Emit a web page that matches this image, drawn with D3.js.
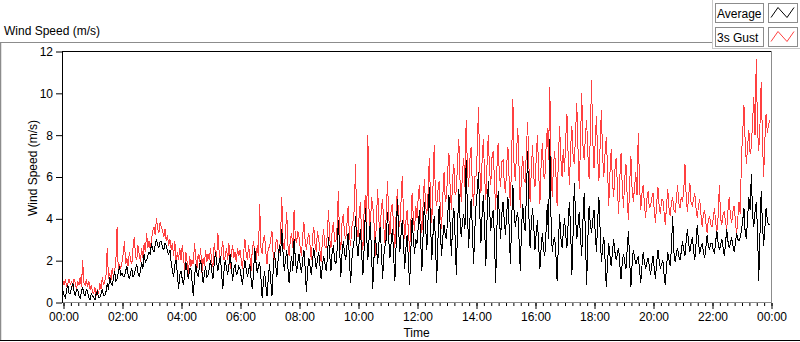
<!DOCTYPE html>
<html>
<head>
<meta charset="utf-8">
<script src="https://cdn.jsdelivr.net/npm/d3@7"></script>
<style>
  body { margin: 0; background: #fff; }
  svg { display: block; font-family: "Liberation Sans", Arial, sans-serif; font-size: 12px; }
</style>
</head>
<body>
<svg id="chart" width="800" height="342"></svg>
<script>
// one sample every 2.5 minutes, one row per hour (24 values)
const sampleMinutes = 2.5;

const average = [
  0.5, 0.3, 0.2, 0.6, 0.8, 0.4, 0.4, 0.7, 0.9, 0.5, 0.3, 0.6, 0.6, 0.3, 0.2, 0.5, 0.7, 0.4, 0.3, 0.6, 0.5, 0.2, 0.1, 0.4,
  0.3, 0.2, 0.1, 0.4, 0.5, 0.2, 0.2, 0.4, 0.6, 0.3, 0.3, 0.5, 0.9, 0.6, 1.2, 0.9, 0.8, 1.1, 1.5, 1.0, 1.1, 1.4, 1.7, 1.3,
  1.4, 1.2, 1.2, 1.5, 1.7, 1.3, 1.1, 1.4, 1.6, 1.2, 1.3, 1.6, 1.8, 1.4, 1.2, 1.5, 1.9, 1.6, 2.3, 1.9, 2.0, 2.2, 2.4, 2.3,
  2.8, 2.5, 2.4, 2.7, 3.0, 2.7, 2.6, 2.9, 2.9, 2.6, 2.5, 2.8, 2.7, 2.4, 2.3, 2.5, 1.9, 1.5, 1.2, 1.8, 2.0, 1.4, 0.6, 1.3,
  1.5, 1.1, 0.8, 1.4, 1.9, 1.5, 1.1, 1.6, 1.6, 1.0, 0.3, 1.2, 1.8, 1.4, 1.2, 1.7, 2.0, 1.5, 0.9, 1.3, 1.7, 1.2, 1.3, 1.6,
  2.0, 1.5, 1.1, 1.8, 2.4, 1.9, 1.5, 1.9, 2.2, 1.4, 0.6, 1.5, 2.0, 1.6, 1.3, 1.8, 2.3, 1.7, 1.0, 1.6, 1.8, 1.3, 1.4, 1.7,
  1.6, 1.2, 0.8, 1.5, 2.0, 1.6, 1.2, 1.5, 1.8, 1.1, 0.6, 1.4, 2.6, 1.9, 1.4, 1.7, 1.9, 1.2, 0.2, 0.9, 1.5, 0.8, 0.3, 1.1,
  1.8, 1.0, 0.3, 1.5, 2.4, 1.8, 1.2, 2.0, 2.7, 2.2, 3.5, 2.4, 1.5, 2.0, 2.5, 1.6, 0.9, 1.7, 2.2, 1.5, 3.0, 2.1, 1.4, 1.9,
  2.3, 1.8, 1.4, 2.0, 2.5, 1.6, 0.5, 1.5, 2.1, 1.7, 1.3, 1.9, 2.6, 2.1, 1.6, 2.0, 2.4, 1.8, 1.1, 1.7, 2.2, 1.9, 1.5, 2.0,
  3.1, 2.2, 1.5, 2.4, 2.7, 2.0, 1.8, 2.5, 3.9, 2.6, 1.2, 2.3, 2.9, 2.4, 2.0, 2.7, 3.3, 2.1, 0.9, 2.0, 2.6, 3.0, 4.1, 2.8,
  2.2, 2.9, 3.5, 2.3, 1.3, 2.6, 4.5, 3.2, 2.0, 3.0, 3.8, 2.4, 0.6, 2.1, 3.1, 2.7, 1.8, 2.8, 3.6, 2.5, 1.1, 2.2, 2.7, 3.0,
  4.3, 3.0, 2.1, 2.9, 3.5, 2.2, 1.0, 2.7, 4.9, 3.5, 2.4, 3.2, 3.9, 2.8, 1.6, 2.6, 3.2, 2.0, 0.8, 2.5, 4.0, 3.1, 2.3, 3.0,
  2.8, 3.6, 4.4, 2.9, 1.5, 3.3, 4.8, 3.6, 2.5, 4.0, 5.5, 3.8, 2.0, 3.2, 4.1, 3.0, 0.9, 2.9, 4.6, 3.4, 2.2, 3.1, 3.7, 3.2,
  3.0, 4.2, 5.1, 3.6, 2.2, 3.8, 4.5, 3.1, 1.3, 3.6, 5.4, 4.0, 3.1, 3.9, 4.2, 3.5, 6.8, 4.4, 2.6, 3.9, 4.9, 3.6, 1.8, 3.4,
  4.6, 5.3, 6.2, 4.4, 2.8, 4.2, 5.1, 3.6, 1.7, 4.0, 5.8, 4.5, 3.4, 4.0, 4.4, 3.1, 0.9, 3.5, 5.3, 4.1, 3.0, 4.2, 4.8, 3.9,
  3.2, 4.3, 5.0, 3.5, 1.8, 3.9, 5.6, 4.3, 3.6, 4.1, 4.3, 3.0, 1.5, 3.4, 4.7, 3.8, 3.4, 5.1, 7.2, 4.2, 2.6, 3.7, 4.5, 3.6,
  2.5, 3.3, 3.9, 2.7, 1.6, 2.6, 3.3, 2.5, 2.2, 3.4, 4.7, 3.0, 7.8, 4.1, 2.4, 2.9, 3.1, 2.3, 1.0, 2.7, 4.2, 3.1, 2.6, 3.3,
  4.0, 3.2, 2.6, 3.8, 4.8, 3.4, 1.3, 3.3, 5.7, 4.1, 3.0, 3.7, 4.3, 3.1, 2.2, 3.9, 5.2, 3.3, 0.8, 3.0, 4.6, 3.7, 3.3, 3.9,
  4.4, 3.3, 2.4, 3.9, 5.0, 3.4, 1.9, 2.6, 3.1, 2.0, 0.7, 1.9, 2.8, 2.2, 1.7, 2.4, 3.0, 2.4, 2.0, 2.3, 2.6, 1.8, 1.1, 1.9,
  2.3, 1.9, 1.6, 2.5, 3.4, 2.0, 0.7, 1.8, 2.5, 2.1, 1.8, 2.0, 2.2, 1.6, 0.9, 1.7, 2.4, 1.9, 1.6, 1.9, 2.1, 1.7, 1.3, 1.8,
  2.2, 1.6, 1.1, 1.9, 2.5, 2.0, 1.6, 1.8, 2.0, 1.3, 0.8, 1.7, 2.4, 2.0, 1.7, 2.6, 4.1, 2.4, 1.9, 2.3, 2.6, 2.2, 2.0, 2.4,
  2.9, 2.5, 2.2, 2.9, 3.5, 2.8, 2.4, 2.8, 3.1, 2.5, 2.0, 2.8, 3.7, 2.9, 2.3, 2.6, 2.8, 2.4, 2.1, 2.6, 3.2, 2.7, 2.5, 2.8,
  2.8, 2.5, 2.3, 2.9, 3.4, 2.8, 2.5, 2.7, 3.0, 2.6, 2.2, 2.8, 3.5, 2.9, 2.6, 2.8, 3.1, 2.7, 2.4, 2.8, 3.3, 3.0, 2.9, 3.1,
  3.4, 3.9, 4.5, 3.3, 3.0, 4.1, 5.0, 4.4, 6.1, 4.2, 3.6, 4.3, 4.8, 3.5, 1.0, 3.2, 5.3, 3.8, 2.7, 3.5, 4.5, 3.9, 3.7, 3.7
];

const gust = [
  1.0, 0.8, 1.1, 0.7, 0.9, 1.1, 0.8, 1.0, 0.7, 1.1, 0.9, 0.6, 1.0, 0.8, 1.2, 0.7, 2.0, 0.9, 0.8, 1.1, 0.7, 1.0, 0.6, 0.8,
  0.5, 0.4, 0.7, 0.3, 0.6, 0.4, 0.9, 0.6, 1.2, 0.8, 1.0, 1.3, 2.6, 1.1, 1.4, 1.0, 1.6, 1.2, 1.5, 1.9, 3.6, 1.4, 1.8, 1.6,
  1.9, 2.3, 2.9, 1.8, 2.1, 1.7, 2.4, 2.0, 1.8, 2.6, 3.1, 2.2, 2.0, 2.7, 2.3, 1.9, 2.6, 2.1, 2.8, 2.4, 3.3, 2.6, 2.9, 2.5,
  3.0, 3.4, 3.6, 3.2, 4.0, 3.5, 3.3, 3.8, 3.6, 3.4, 3.1, 3.5, 2.9, 3.2, 2.7, 3.0, 2.5, 2.8, 2.2, 2.9, 1.8, 2.4, 2.0, 2.6,
  2.0, 2.7, 2.2, 1.5, 2.4, 1.9, 1.3, 2.2, 1.7, 2.0, 1.8, 2.8, 2.1, 1.6, 2.3, 1.9, 2.6, 1.4, 2.1, 1.7, 2.5, 1.9, 2.3, 2.0,
  2.6, 1.9, 1.7, 2.8, 2.3, 2.1, 3.3, 2.4, 1.8, 2.5, 2.9, 2.0, 2.2, 2.6, 2.0, 2.8, 1.6, 2.4, 2.7, 2.1, 2.4, 1.9, 2.6, 2.2,
  2.5, 2.0, 1.6, 2.4, 3.0, 2.3, 2.0, 2.7, 2.2, 1.5, 2.5, 2.9, 2.4, 2.0, 2.7, 2.2, 4.7, 2.6, 2.3, 3.0, 3.2, 2.4, 1.8, 2.6,
  2.6, 3.0, 3.4, 2.2, 2.0, 2.8, 3.0, 2.5, 2.4, 3.1, 5.0, 2.8, 2.5, 3.3, 4.3, 2.7, 2.2, 3.0, 3.3, 2.6, 4.4, 3.1, 2.8, 3.4,
  3.1, 2.6, 2.2, 3.2, 3.8, 2.9, 2.5, 3.0, 3.3, 2.7, 2.0, 3.1, 3.6, 2.8, 2.4, 3.4, 3.0, 2.5, 1.9, 2.9, 3.5, 2.7, 2.6, 3.2,
  4.4, 3.0, 2.6, 3.4, 3.8, 2.9, 2.9, 3.6, 5.3, 3.1, 2.5, 3.8, 4.2, 3.3, 3.0, 3.7, 4.6, 3.2, 2.7, 3.6, 3.9, 4.4, 6.6, 3.5,
  3.1, 4.2, 4.8, 3.0, 2.5, 4.4, 5.1, 3.6, 8.0, 4.3, 3.4, 5.0, 4.6, 3.8, 2.2, 4.0, 5.4, 3.9, 3.3, 4.5, 4.9, 3.6, 2.8, 4.2,
  5.8, 4.1, 3.2, 4.5, 4.7, 3.5, 2.6, 4.2, 5.4, 4.0, 3.6, 4.8, 6.0, 4.3, 3.0, 3.9, 4.4, 3.4, 2.4, 3.8, 5.2, 4.1, 3.4, 4.6,
  4.0, 5.0, 5.6, 4.1, 3.3, 4.7, 5.9, 4.6, 4.2, 5.2, 6.9, 4.9, 3.8, 5.5, 7.5, 5.0, 4.6, 5.3, 5.8, 4.4, 3.5, 5.1, 6.2, 4.8,
  5.0, 6.3, 7.1, 5.4, 4.4, 5.9, 6.6, 5.1, 5.3, 6.7, 7.8, 5.8, 4.8, 6.2, 6.9, 5.5, 8.7, 6.4, 5.5, 6.8, 7.4, 5.6, 4.6, 6.0,
  6.0, 7.2, 9.3, 6.5, 5.2, 6.8, 7.8, 6.0, 4.9, 6.6, 8.0, 6.3, 5.6, 6.9, 7.2, 5.8, 4.4, 6.4, 7.6, 6.1, 5.5, 6.7, 6.8, 5.7,
  5.2, 6.6, 7.4, 5.8, 4.6, 6.9, 9.7, 6.4, 5.8, 7.2, 8.3, 6.5, 4.5, 6.1, 7.0, 5.9, 5.7, 7.3, 8.6, 6.6, 4.8, 6.3, 7.5, 6.0,
  5.5, 6.9, 8.0, 6.2, 4.7, 6.6, 7.6, 6.0, 5.9, 7.4, 8.3, 6.8, 10.3, 7.0, 5.0, 6.5, 7.2, 6.1, 4.6, 6.8, 8.4, 6.9, 6.0, 7.3,
  6.2, 7.8, 9.0, 6.9, 5.6, 7.4, 8.4, 7.0, 6.6, 8.1, 9.5, 7.3, 5.4, 7.6, 10.0, 7.5, 6.8, 7.9, 8.7, 7.1, 5.9, 8.0, 10.6, 7.7,
  6.4, 7.7, 8.9, 6.9, 5.8, 7.5, 9.2, 7.0, 6.0, 7.1, 7.9, 6.4, 4.6, 6.2, 7.3, 5.8, 5.0, 6.3, 6.9, 5.6, 4.2, 5.9, 7.1, 5.5,
  4.5, 5.9, 6.6, 5.0, 3.9, 5.6, 7.0, 5.4, 4.8, 5.5, 6.2, 5.1, 8.1, 5.7, 4.4, 5.2, 5.6, 4.7, 4.0, 4.9, 5.3, 4.5, 4.6, 5.0,
  5.2, 4.4, 3.8, 4.7, 5.5, 4.6, 4.2, 4.9, 4.9, 4.3, 3.7, 4.6, 5.4, 4.5, 4.1, 4.8, 5.0, 4.4, 4.3, 4.9, 5.6, 4.7, 4.5, 5.0,
  4.8, 5.3, 6.6, 5.0, 4.3, 5.1, 5.7, 4.7, 4.6, 4.9, 5.2, 4.5, 4.0, 4.6, 4.9, 4.2, 3.6, 4.2, 4.4, 3.8, 3.3, 3.9, 4.1, 3.7,
  3.6, 4.0, 4.5, 3.8, 3.4, 4.1, 5.6, 4.0, 3.7, 4.2, 4.3, 3.8, 3.5, 4.4, 5.0, 4.1, 3.8, 4.3, 4.6, 3.9, 3.2, 4.0, 4.8, 4.2,
  7.0, 8.1, 9.4, 7.6, 6.6, 7.5, 8.2, 7.1, 7.4, 8.6, 9.8, 8.0, 11.6, 8.3, 7.2, 8.4, 10.5, 7.9, 6.0, 7.7, 9.0, 8.1, 8.5, 8.7
];

const xTickHours = [0, 2, 4, 6, 8, 10, 12, 14, 16, 18, 20, 22, 24];
const xTickLabels = ["00:00", "02:00", "04:00", "06:00", "08:00", "10:00", "12:00",
  "14:00", "16:00", "18:00", "20:00", "22:00", "00:00"];
const yTicks = [0, 2, 4, 6, 8, 10, 12];
const legendLabels = ["Average", "3s Gust"];
const seriesColors = ["#000000", "#ff4040"];

const plot = { left: 62, top: 51, right: 771, bottom: 302 };

const svg = d3.select("#chart");

const x = d3.scaleLinear().domain([0, 24]).range([plot.left + 1, plot.right]);
const y = d3.scaleLinear().domain([0, 12]).range([plot.bottom, plot.top]);

// outer panel
svg.append("line").attr("x1", 0).attr("x2", 712).attr("y1", 42.5).attr("y2", 42.5)
  .attr("stroke", "#8c8c8c");
svg.append("line").attr("x1", 0.5).attr("x2", 0.5).attr("y1", 42).attr("y2", 341)
  .attr("stroke", "#8c8c8c").attr("stroke-width", 1.5);
svg.append("line").attr("x1", 0).attr("x2", 800).attr("y1", 340.5).attr("y2", 340.5)
  .attr("stroke", "#000");

svg.append("text").attr("x", 4).attr("y", 35).attr("fill", "#000")
  .text("Wind Speed (m/s)");

// plot frame
svg.append("line").attr("x1", plot.left).attr("x2", plot.right + 1)
  .attr("y1", plot.top + 0.5).attr("y2", plot.top + 0.5).attr("stroke", "#000");
svg.append("line").attr("x1", plot.right + 0.5).attr("x2", plot.right + 0.5)
  .attr("y1", plot.top).attr("y2", plot.bottom + 1).attr("stroke", "#8c8c8c");
svg.append("line").attr("x1", plot.left).attr("x2", plot.right + 1)
  .attr("y1", plot.bottom + 0.5).attr("y2", plot.bottom + 0.5).attr("stroke", "#8c8c8c");
svg.append("line").attr("x1", plot.left + 0.5).attr("x2", plot.left + 0.5)
  .attr("y1", plot.top).attr("y2", plot.bottom + 1).attr("stroke", "#000");

// data lines, gust first so the average sits on top; aliased like the original
const line = d3.line()
  .x((d, i) => x((i * sampleMinutes) / 60))
  .y((d) => y(d));

[[gust, seriesColors[1]], [average, seriesColors[0]]].forEach(([values, color]) => {
  svg.append("path")
    .datum(values)
    .attr("d", line)
    .attr("fill", "none")
    .attr("stroke", color)
    .attr("stroke-width", 1)
    .attr("shape-rendering", "crispEdges");
});

// x axis: minor ticks every 15 min, major every 2 h
const minorTicks = d3.range(0, 24.001, 0.25);
const xMinor = svg.append("g")
  .attr("transform", `translate(0.5,${plot.bottom + 1})`)
  .call(d3.axisBottom(x).tickValues(minorTicks).tickSize(3).tickFormat(""));
xMinor.select(".domain").remove();

const xAxis = svg.append("g")
  .attr("transform", `translate(0.5,${plot.bottom + 1})`)
  .call(d3.axisBottom(x).tickValues(xTickHours).tickSize(6).tickPadding(3)
    .tickFormat((d, i) => xTickLabels[i]));
xAxis.select(".domain").remove();
xAxis.selectAll("text").attr("font-size", 12).attr("font-family", "Liberation Sans, Arial, sans-serif").attr("fill", "#000");

// y axis
const yAxis = svg.append("g")
  .attr("transform", `translate(${plot.left},0.5)`)
  .call(d3.axisLeft(y).tickValues(yTicks).tickSize(6).tickPadding(3));
yAxis.select(".domain").remove();
yAxis.selectAll("text").attr("font-size", 12).attr("font-family", "Liberation Sans, Arial, sans-serif").attr("fill", "#000");

svg.append("text")
  .attr("x", (plot.left + plot.right) / 2).attr("y", 337)
  .attr("text-anchor", "middle").attr("fill", "#000")
  .text("Time");

svg.append("text")
  .attr("transform", `translate(37,168) rotate(-90)`)
  .attr("text-anchor", "middle").attr("fill", "#000")
  .text("Wind Speed (m/s)");

// legend
const legend = svg.append("g");
legend.append("rect").attr("x", 712.5).attr("y", -1).attr("width", 88).attr("height", 49.5)
  .attr("fill", "#fff").attr("stroke", "#c8c8c8");

legendLabels.forEach((label, i) => {
  const top = 3.5 + i * 24;
  legend.append("rect").attr("x", 715.5).attr("y", top).attr("width", 48).attr("height", 19)
    .attr("fill", "#fff").attr("stroke", "#8c8c8c");
  legend.append("text").attr("x", 717).attr("y", top + 14).attr("fill", "#000").text(label);
  legend.append("rect").attr("x", 768.5).attr("y", top).attr("width", 29).attr("height", 19)
    .attr("fill", "#fff").attr("stroke", "#8c8c8c");
  legend.append("path")
    .attr("d", `M771,${top + 14}L778,${top + 4}L787,${top + 14}L794,${top + 4}`)
    .attr("fill", "none").attr("stroke", seriesColors[i]);
});
</script>
</body>
</html>
